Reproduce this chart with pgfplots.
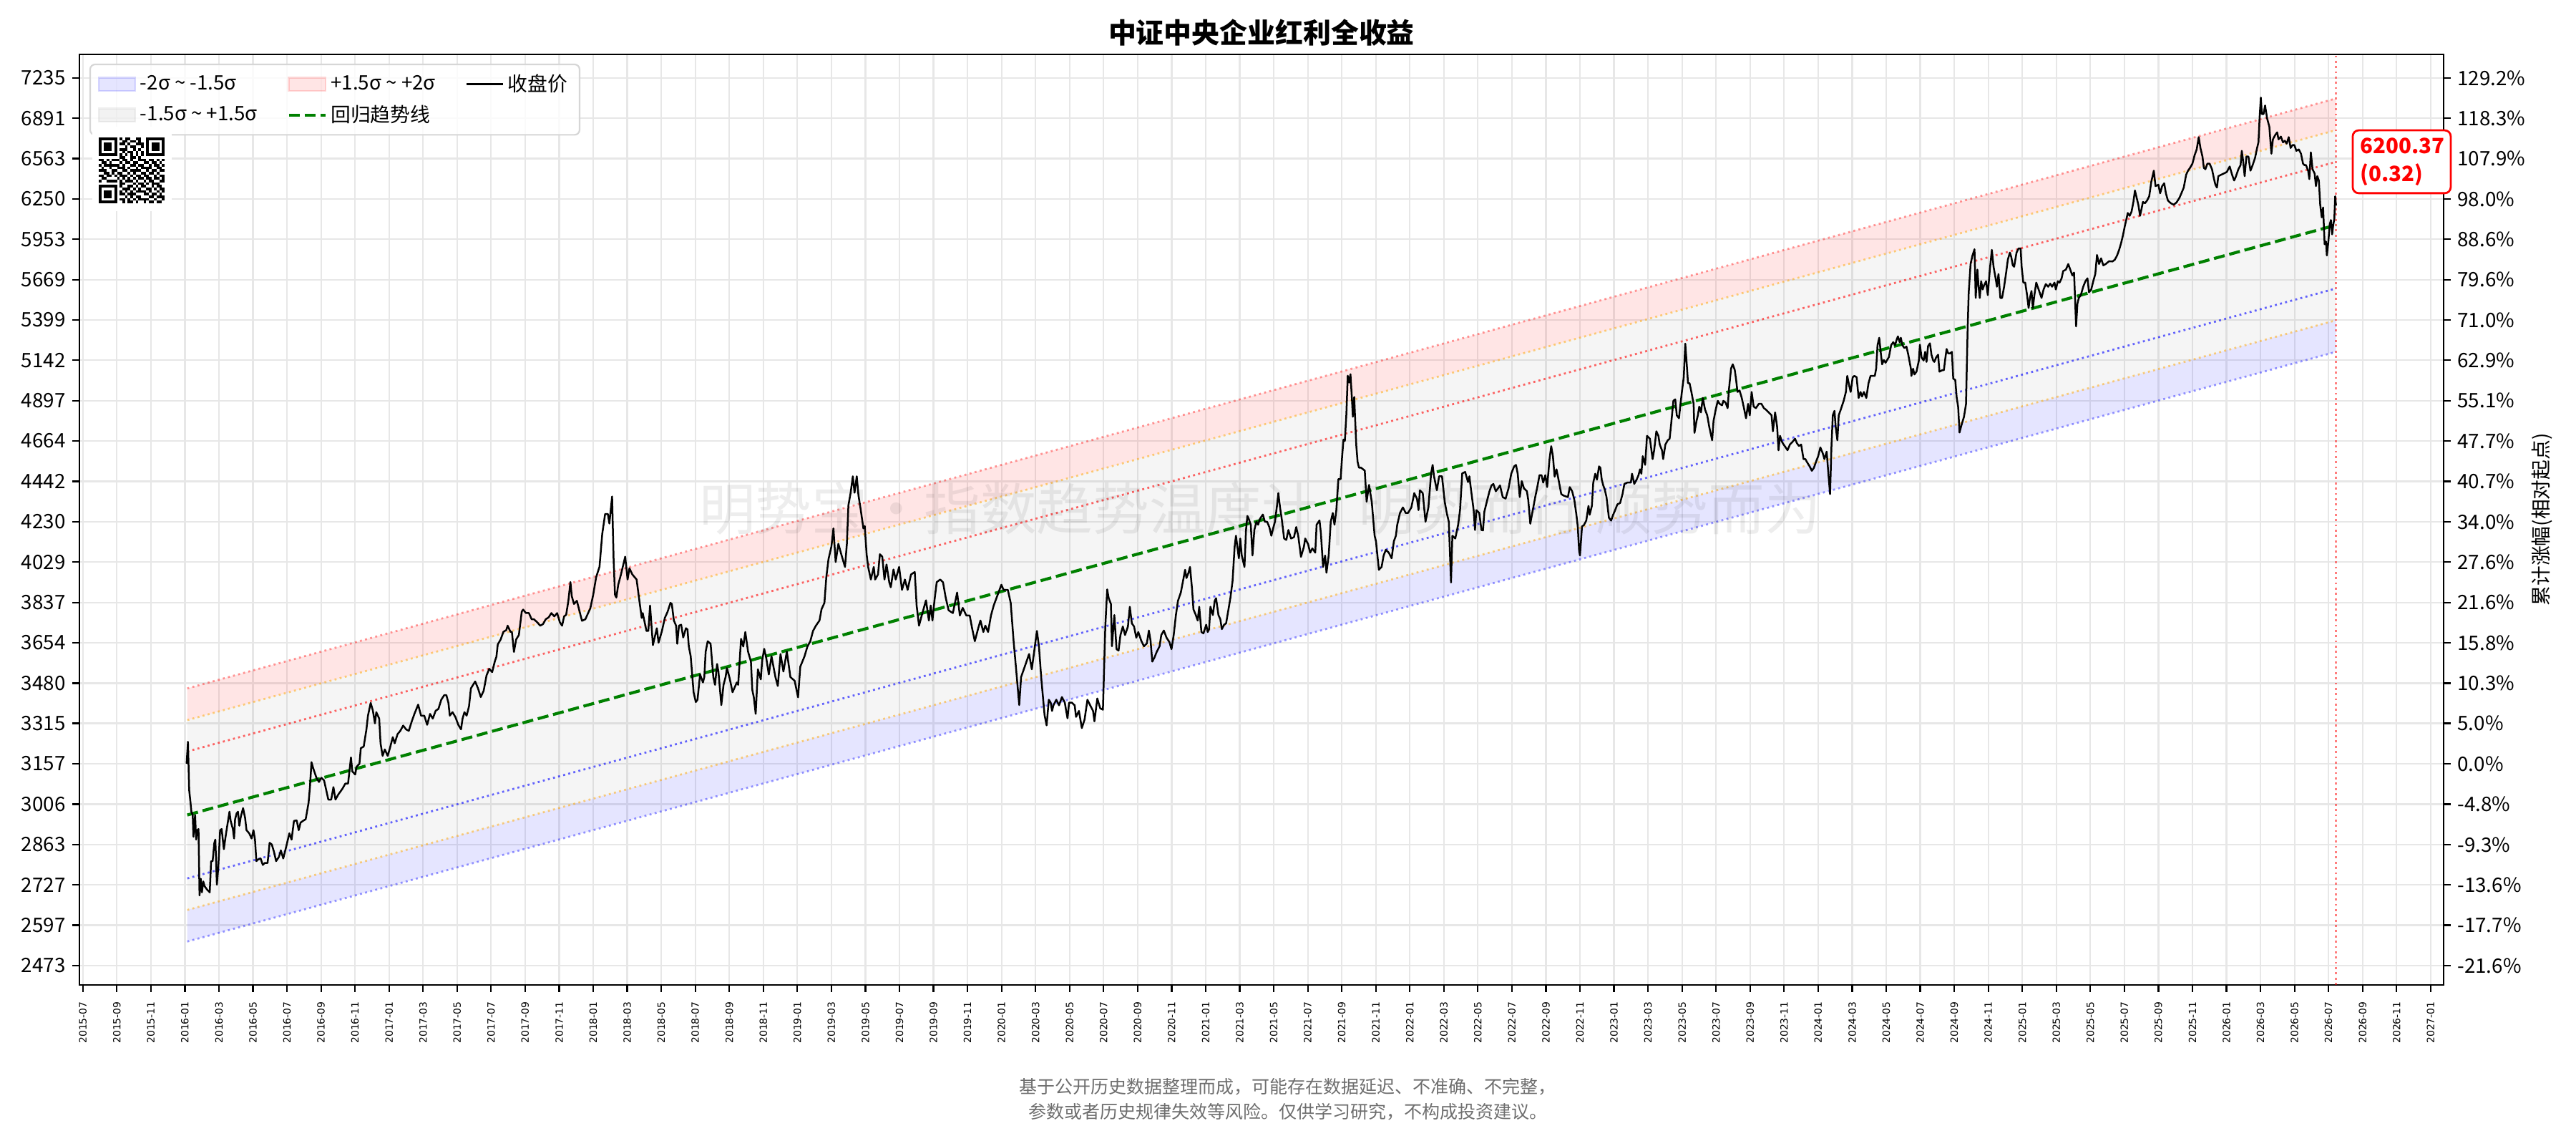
\documentclass[border=0pt]{standalone}
\usepackage{fontspec}
\usepackage{pgfplots}
\usepackage{pgfplotstable}
\pgfplotsset{compat=1.18}
\setmainfont{Noto Sans CJK SC}
\newfontfamily\dejavu{DejaVu Sans}
\definecolor{gridc}{RGB}{231,231,231}
\definecolor{legedge}{RGB}{214,214,214}
\definecolor{mplgreen}{RGB}{0,128,0}
\definecolor{mplorange}{RGB}{255,165,0}
\definecolor{footgray}{RGB}{110,110,110}
\pgfplotsset{
  patchlegend/.style={legend image code/.code={\draw[sharp corners,##1] (0pt,-3.3pt) rectangle (18.4pt,3.3pt);}},
  linelegend/.style={legend image code/.code={\draw[sharp corners,##1] (0pt,0pt) -- (18.4pt,0pt);}},
}
\newcount\qrc
\def\qrparse#1{\ifx#1\relax\else\ifnum#1=1 \edef\qrx{\the\qrc}\fill (\qrx,\qrr) rectangle ++(1,1);\fi\global\advance\qrc by 1 \expandafter\qrparse\fi}
\def\qrrow#1#2{\def\qrr{#1}\global\qrc=0 \qrparse#2\relax}
\newcommand\tl{\textasciitilde}

% month index: 0 = 2015-07-01 ; p = close
\pgfplotstableread{
m p
6.10 3157
6.18 3242
6.25 3059
6.33 3012
6.38 2979
6.46 2967
6.50 2890
6.60 2967
6.66 2880
6.73 2913
6.80 2917
6.86 2692
6.93 2747
7.00 2702
7.08 2738
7.16 2722
7.29 2712
7.46 2702
7.54 2806
7.63 2806
7.73 2869
7.79 2880
7.88 2727
7.96 2784
8.07 2913
8.16 2917
8.29 2847
8.39 2890
8.49 2929
8.62 2979
8.69 2946
8.82 2917
8.89 2884
8.95 2952
9.04 2973
9.12 2979
9.20 2929
9.29 2962
9.42 2992
9.54 2956
9.62 2913
9.78 2902
9.92 2884
10.03 2913
10.12 2880
10.20 2806
10.28 2811
10.45 2815
10.58 2793
10.70 2800
10.86 2800
10.98 2869
11.11 2863
11.24 2837
11.36 2806
11.53 2821
11.64 2843
11.78 2815
11.94 2852
12.14 2902
12.27 2880
12.41 2946
12.57 2948
12.69 2913
12.80 2940
12.94 2946
13.10 2952
13.27 3012
13.35 3069
13.44 3163
13.54 3140
13.73 3104
13.88 3088
14.02 3104
14.18 3094
14.43 3023
14.60 3023
14.73 3069
14.85 3023
15.01 3041
15.26 3063
15.43 3082
15.59 3082
15.76 3181
15.84 3128
16.01 3116
16.09 3145
16.26 3157
16.34 3217
16.51 3223
16.67 3291
16.76 3346
16.92 3398
17.05 3366
17.17 3315
17.25 3360
17.42 3334
17.50 3236
17.62 3187
17.75 3212
17.92 3187
18.05 3217
18.22 3260
18.33 3236
18.50 3272
18.66 3285
18.83 3306
19.00 3291
19.16 3285
19.33 3322
19.49 3353
19.71 3391
19.88 3346
20.07 3346
20.24 3309
20.41 3353
20.57 3334
20.74 3366
20.90 3373
21.07 3411
21.24 3430
21.37 3430
21.49 3398
21.57 3346
21.73 3360
21.90 3340
22.07 3309
22.23 3291
22.32 3334
22.43 3360
22.56 3346
22.70 3384
22.81 3458
23.06 3487
23.23 3458
23.39 3422
23.56 3448
23.73 3513
23.89 3541
24.06 3527
24.22 3574
24.31 3593
24.39 3647
24.56 3669
24.72 3703
24.89 3711
24.97 3731
25.14 3703
25.22 3703
25.34 3614
25.47 3669
25.63 3689
25.80 3795
25.88 3804
26.05 3788
26.22 3788
26.38 3760
26.51 3760
26.71 3746
26.88 3731
27.05 3738
27.21 3760
27.38 3768
27.54 3788
27.71 3773
27.88 3788
28.04 3746
28.17 3731
28.29 3773
28.41 3780
28.54 3845
28.66 3933
28.74 3866
28.87 3830
29.04 3845
29.20 3795
29.34 3753
29.54 3760
29.70 3788
29.83 3810
30.00 3873
30.17 3956
30.37 4006
30.53 4168
30.70 4270
30.86 4270
30.95 4221
31.11 4361
31.20 4037
31.28 3873
31.36 3860
31.47 3920
31.63 3969
31.88 4055
32.02 3945
32.13 3999
32.30 3969
32.55 3945
32.71 3847
32.85 3766
32.91 3788
33.13 3707
33.24 3707
33.34 3823
33.51 3644
33.63 3684
33.74 3719
33.84 3655
34.04 3707
34.21 3766
34.37 3794
34.54 3835
34.62 3830
34.74 3754
34.87 3731
34.94 3650
35.04 3731
35.17 3735
35.29 3678
35.45 3719
35.54 3714
35.62 3638
35.73 3595
35.90 3442
36.03 3401
36.13 3411
36.28 3517
36.45 3483
36.53 3506
36.61 3616
36.73 3661
36.90 3650
37.06 3506
37.16 3473
37.28 3562
37.36 3529
37.53 3389
37.66 3473
37.78 3506
37.86 3544
38.02 3501
38.19 3442
38.44 3483
38.52 3473
38.69 3672
38.82 3638
38.94 3702
39.10 3616
39.27 3572
39.35 3452
39.44 3421
39.55 3353
39.68 3539
39.85 3496
39.93 3577
40.05 3628
40.18 3584
40.32 3517
40.48 3595
40.71 3506
40.85 3468
41.01 3605
41.18 3529
41.38 3616
41.59 3506
41.84 3490
42.04 3421
42.17 3550
42.42 3595
42.59 3638
42.76 3661
42.92 3707
43.09 3731
43.30 3754
43.42 3806
43.59 3835
43.70 3956
43.83 4043
44.00 4105
44.12 4196
44.25 4029
44.41 4119
44.58 4067
44.80 4005
44.91 4119
45.00 4315
45.13 4381
45.26 4469
45.36 4381
45.49 4469
45.59 4368
45.71 4300
45.88 4196
45.96 4208
46.07 4067
46.16 4005
46.32 3945
46.49 4005
46.57 3945
46.74 3969
46.85 4067
46.99 4055
47.12 3945
47.24 4017
47.40 3932
47.49 3908
47.65 3993
47.78 3945
47.98 4005
48.15 3896
48.32 3945
48.48 3896
48.68 3969
48.90 3981
49.01 3823
49.15 3731
49.31 3777
49.56 3847
49.73 3754
49.84 3823
49.94 3754
50.06 3847
50.19 3932
50.39 3945
50.56 3932
50.72 3859
50.89 3801
51.14 3788
51.39 3883
51.55 3777
51.72 3812
51.93 3777
52.13 3777
52.27 3719
52.43 3661
52.63 3719
52.76 3754
52.93 3702
53.05 3731
53.21 3702
53.38 3777
53.54 3823
53.99 3920
54.12 3896
54.37 3896
54.54 3835
54.71 3661
54.87 3529
55.04 3389
55.15 3506
55.42 3562
55.62 3605
55.78 3539
56.08 3707
56.20 3638
56.33 3506
56.53 3348
56.65 3307
56.78 3411
56.89 3399
56.97 3365
57.05 3388
57.22 3411
57.38 3388
57.55 3422
57.72 3399
57.80 3365
57.88 3335
57.97 3399
58.13 3399
58.30 3388
58.38 3341
58.55 3365
58.72 3296
58.88 3330
59.05 3411
59.21 3388
59.38 3365
59.46 3323
59.63 3416
59.80 3376
59.96 3370
60.10 3727
60.21 3898
60.30 3857
60.43 3830
60.49 3639
60.63 3779
60.76 3626
60.88 3620
60.99 3689
61.13 3727
61.26 3689
61.43 3727
61.54 3817
61.66 3741
61.79 3727
61.92 3677
62.04 3702
62.21 3664
62.37 3639
62.54 3651
62.66 3709
62.76 3664
62.86 3572
62.99 3590
63.12 3614
63.29 3639
63.39 3689
63.54 3709
63.70 3677
63.87 3657
63.99 3626
64.12 3689
64.25 3779
64.37 3844
64.54 3884
64.70 3952
64.79 3992
64.87 3952
64.99 3978
65.08 4005
65.20 3898
65.28 3805
65.42 3779
65.53 3754
65.62 3817
65.75 3702
65.87 3696
66.03 3735
66.12 3702
66.20 3715
66.28 3817
66.42 3779
66.53 3844
66.61 3857
66.75 3779
66.86 3760
66.95 3715
67.08 3735
67.20 3741
67.31 3792
67.45 3857
67.58 3938
67.70 4103
67.78 4159
67.95 4047
68.03 4145
68.12 4061
68.28 4005
68.37 4188
68.45 4260
68.53 4245
68.65 4215
68.75 4061
68.86 4188
68.98 4230
69.08 4215
69.19 4245
69.36 4267
69.48 4230
69.61 4230
69.74 4203
69.86 4159
69.94 4188
70.07 4230
70.19 4312
70.27 4379
70.37 4304
70.47 4245
70.61 4145
70.74 4138
70.86 4188
71.02 4145
71.19 4152
71.32 4203
71.44 4159
71.60 4054
71.77 4103
71.85 4145
72.02 4117
72.14 4075
72.27 4096
72.44 4075
72.52 4215
72.69 4237
72.77 4174
72.90 4005
73.02 4061
73.10 3978
73.23 4061
73.35 4230
73.47 4275
73.57 4215
73.68 4290
73.80 4454
73.93 4454
74.02 4578
74.10 4672
74.18 4664
74.27 4819
74.35 5047
74.43 5005
74.51 5056
74.60 4901
74.65 4803
74.73 4919
74.85 4641
74.93 4547
75.01 4516
75.13 4516
75.35 4500
75.46 4334
75.60 4423
75.76 4334
75.93 4159
76.01 4131
76.18 3992
76.34 4005
76.46 4061
76.59 4089
76.76 4075
76.93 4047
77.06 4131
77.18 4159
77.26 4215
77.42 4275
77.59 4304
77.76 4275
77.89 4275
78.09 4304
78.26 4379
78.42 4349
78.51 4290
78.59 4394
78.76 4379
78.92 4230
79.09 4304
79.25 4485
79.34 4531
79.42 4469
79.59 4394
79.72 4469
79.89 4469
80.05 4334
80.17 4275
80.29 4230
80.42 3931
80.50 4159
80.67 4145
80.84 4215
80.95 4290
81.08 4485
81.25 4493
81.42 4438
81.50 4469
81.58 4409
81.75 4290
81.83 4188
81.91 4290
82.08 4275
82.21 4188
82.30 4186
82.38 4282
82.55 4343
82.68 4389
82.80 4420
82.91 4428
83.05 4389
83.18 4404
83.30 4420
83.38 4389
83.46 4358
83.63 4350
83.80 4404
83.96 4483
84.13 4523
84.24 4531
84.34 4483
84.46 4358
84.58 4443
84.71 4404
84.88 4389
84.96 4343
85.08 4220
85.21 4282
85.37 4358
85.51 4420
85.62 4475
85.74 4475
85.84 4435
85.96 4475
86.07 4411
86.21 4563
86.31 4635
86.41 4579
86.51 4467
86.62 4507
86.74 4451
86.90 4374
87.04 4366
87.29 4358
87.40 4411
87.54 4389
87.67 4343
87.79 4266
87.87 4206
87.95 4084
88.00 4061
88.12 4206
88.23 4213
88.37 4236
88.50 4312
88.57 4266
88.70 4312
88.78 4435
88.90 4483
89.00 4451
89.12 4523
89.20 4515
89.28 4451
89.37 4420
89.46 4397
89.56 4358
89.70 4251
89.83 4236
89.95 4266
90.03 4282
90.20 4320
90.36 4327
90.50 4374
90.61 4428
90.78 4435
90.99 4435
91.06 4483
91.19 4428
91.33 4451
91.44 4475
91.53 4507
91.61 4483
91.69 4579
91.83 4531
91.94 4693
92.11 4677
92.27 4563
92.36 4612
92.49 4719
92.61 4693
92.69 4644
92.82 4612
92.89 4563
93.02 4644
93.16 4668
93.27 4677
93.36 4761
93.49 4896
93.60 4905
93.69 4811
93.82 4794
93.89 4862
93.99 4949
94.10 5038
94.19 5247
94.27 5127
94.35 5002
94.44 5002
94.55 4949
94.68 4878
94.73 4710
94.85 4778
94.93 4811
95.01 4862
95.11 4828
95.22 4913
95.35 4845
95.48 4811
95.60 4744
95.77 4668
95.85 4778
95.98 4845
96.10 4896
96.21 4878
96.35 4870
96.43 4896
96.55 4887
96.68 4853
96.76 4967
96.88 5091
96.98 5117
97.10 5082
97.18 5020
97.26 4949
97.38 4958
97.51 4913
97.64 4853
97.76 4794
97.88 4878
97.98 4811
98.09 4949
98.21 4862
98.34 4853
98.51 4878
98.67 4878
98.81 4853
98.92 4845
99.09 4828
99.26 4811
99.34 4719
99.47 4828
99.59 4744
99.67 4612
99.76 4693
99.87 4660
99.97 4644
100.09 4628
100.20 4612
100.34 4644
100.50 4660
100.64 4677
100.75 4652
100.87 4636
101.00 4644
101.14 4563
101.25 4563
101.34 4547
101.50 4523
101.63 4499
101.75 4515
101.87 4547
102.00 4579
102.13 4628
102.27 4595
102.37 4563
102.50 4604
102.63 4451
102.70 4374
102.78 4628
102.86 4811
102.96 4837
103.03 4744
103.13 4668
103.21 4811
103.33 4845
103.50 4896
103.63 4949
103.71 5046
103.83 4984
103.91 4949
104.03 5038
104.13 5046
104.26 5038
104.38 4913
104.49 4949
104.58 4922
104.69 4949
104.83 4913
104.96 5002
105.08 5046
105.33 5046
105.41 5091
105.49 5237
105.59 5284
105.69 5181
105.76 5117
105.86 5144
105.96 5127
106.16 5163
106.29 5237
106.41 5256
106.52 5237
106.62 5274
106.69 5293
106.79 5256
106.86 5284
106.95 5237
107.07 5219
107.19 5228
107.29 5181
107.45 5091
107.48 5046
107.58 5090
107.66 5055
107.78 5072
107.92 5141
107.98 5240
108.08 5159
108.20 5141
108.29 5195
108.37 5132
108.46 5231
108.57 5249
108.66 5177
108.76 5141
108.83 5132
108.93 5159
109.05 5177
109.13 5072
109.30 5081
109.39 5081
109.47 5150
109.55 5213
109.64 5186
109.77 5186
109.86 5195
109.94 5029
110.06 5021
110.14 4918
110.23 4859
110.31 4712
110.42 4753
110.57 4802
110.69 4876
110.79 5357
110.85 5583
110.96 5777
111.07 5837
111.19 5881
111.26 5545
111.36 5738
111.43 5621
111.50 5545
111.58 5658
111.67 5602
111.75 5630
111.87 5658
111.97 5564
112.09 5738
112.21 5877
112.31 5758
112.43 5678
112.51 5621
112.60 5708
112.71 5545
112.81 5545
112.93 5621
113.05 5718
113.15 5808
113.27 5858
113.35 5827
113.44 5768
113.52 5758
113.66 5858
113.78 5887
113.90 5887
113.96 5758
114.06 5649
114.17 5649
114.28 5564
114.37 5478
114.45 5545
114.54 5592
114.62 5478
114.71 5564
114.82 5649
114.96 5602
115.13 5545
115.25 5602
115.38 5639
115.52 5621
115.64 5642
115.75 5621
115.89 5649
115.97 5602
116.09 5658
116.19 5649
116.31 5678
116.40 5728
116.56 5738
116.70 5777
116.82 5738
116.94 5698
117.04 5718
117.10 5545
117.16 5357
117.24 5507
117.32 5545
117.44 5564
117.58 5621
117.71 5658
117.83 5678
117.92 5583
118.05 5602
118.17 5658
118.29 5708
118.39 5841
118.51 5777
118.63 5817
118.76 5768
118.90 5777
119.10 5797
119.30 5795
119.44 5808
119.57 5837
119.69 5877
119.81 5927
119.91 5978
120.03 6051
120.20 6145
120.31 6124
120.42 6155
120.53 6228
120.62 6315
120.70 6271
120.82 6207
120.92 6124
120.99 6165
121.09 6228
121.21 6218
121.33 6238
121.46 6271
121.58 6381
121.73 6468
121.83 6348
122.00 6359
122.10 6293
122.22 6348
122.34 6370
122.44 6293
122.56 6238
122.73 6218
122.90 6207
123.07 6225
123.24 6260
123.35 6293
123.49 6337
123.63 6436
123.74 6468
123.86 6490
124.00 6523
124.13 6591
124.25 6636
124.37 6736
124.47 6648
124.59 6579
124.67 6490
124.76 6479
124.88 6523
125.01 6523
125.15 6479
125.27 6402
125.35 6359
125.44 6337
125.52 6425
125.69 6436
125.86 6447
126.02 6458
126.19 6501
126.33 6436
126.45 6391
126.53 6414
126.70 6479
126.83 6512
126.90 6625
126.97 6556
127.07 6425
127.17 6579
127.29 6579
127.41 6468
127.54 6512
127.68 6568
127.80 6648
127.88 6694
127.95 6902
128.02 7066
128.08 6926
128.18 6926
128.27 6998
128.39 6890
128.52 6821
128.64 6602
128.73 6717
128.86 6752
128.98 6775
129.06 6717
129.20 6740
129.32 6694
129.43 6706
129.54 6683
129.66 6736
129.77 6648
129.88 6671
129.99 6671
130.11 6625
130.25 6636
130.38 6602
130.50 6523
130.58 6512
130.67 6512
130.80 6468
130.87 6402
130.96 6613
131.06 6479
131.18 6447
131.26 6348
131.34 6425
131.43 6391
131.51 6207
131.60 6113
131.68 6186
131.77 5917
131.85 5937
131.90 5837
131.99 5937
132.07 6061
132.14 6093
132.21 5988
132.27 6051
132.34 6103
132.39 6271
132.44 6200.37
}\closedata

\begin{document}
\begin{tikzpicture}
\useasboundingbox (-39.96pt,-80.64pt) rectangle (1256.04pt,495.36pt);
\begin{axis}[
  name=main, at={(0pt,0pt)}, anchor=south west,
  scale only axis, width=1189.4pt, height=468pt,
  xmin=-0.2, xmax=138.76,
  ymode=log, ymin=2416, ymax=7445,
  xtick={0,2,...,138},
  xticklabels={2015-07,2015-09,2015-11,
    2016-01,2016-03,2016-05,2016-07,2016-09,2016-11,
    2017-01,2017-03,2017-05,2017-07,2017-09,2017-11,
    2018-01,2018-03,2018-05,2018-07,2018-09,2018-11,
    2019-01,2019-03,2019-05,2019-07,2019-09,2019-11,
    2020-01,2020-03,2020-05,2020-07,2020-09,2020-11,
    2021-01,2021-03,2021-05,2021-07,2021-09,2021-11,
    2022-01,2022-03,2022-05,2022-07,2022-09,2022-11,
    2023-01,2023-03,2023-05,2023-07,2023-09,2023-11,
    2024-01,2024-03,2024-05,2024-07,2024-09,2024-11,
    2025-01,2025-03,2025-05,2025-07,2025-09,2025-11,
    2026-01,2026-03,2026-05,2026-07,2026-09,2026-11,
    2027-01},
  ytick={2473,2597,2727,2863,3006,3157,3315,3480,3654,3837,4029,4230,4442,4664,4897,5142,5399,5669,5953,6250,6563,6891,7235},
  yticklabels={2473,2597,2727,2863,3006,3157,3315,3480,3654,3837,4029,4230,4442,4664,4897,5142,5399,5669,5953,6250,6563,6891,7235},
  tick pos=left, tick align=outside,
  major tick length=3.5pt,
  tick style={black, line width=0.8pt},
  axis line style={line width=0.8pt},
  grid=major, grid style={gridc, line width=0.8pt},
  xticklabel style={rotate=90, anchor=east, font=\dejavu\fontsize{5}{6}\selectfont},
  xticklabel shift=1.5pt,
  yticklabel style={font=\fontsize{10}{12}\selectfont},
  legend columns=3,
  legend cell align=left,
  legend style={at={(axis description cs:0.0042,0.99)}, anchor=north west,
    draw=legedge, line width=0.8pt, rounded corners=2.5pt,
    fill=white, fill opacity=0.8, text opacity=1,
    font=\fontsize{10}{12}\selectfont,
    /tikz/every even column/.append style={column sep=13pt},
    row sep=1.5pt, inner xsep=4pt, inner ysep=3pt},
]
% legend entries (row-major order)
\addlegendimage{patchlegend, fill=blue, fill opacity=0.1, draw=blue, draw opacity=0.15}
\addlegendentry{-2σ \tl{} -1.5σ}
\addlegendimage{patchlegend, fill=red, fill opacity=0.1, draw=red, draw opacity=0.15}
\addlegendentry{+1.5σ \tl{} +2σ}
\addlegendimage{linelegend, black, line width=1pt}
\addlegendentry{收盘价}
\addlegendimage{patchlegend, fill=gray, fill opacity=0.1, draw=gray, draw opacity=0.12}
\addlegendentry{-1.5σ \tl{} +1.5σ}
\addlegendimage{linelegend, mplgreen, line width=1.5pt, dash pattern=on 5.55pt off 2.4pt}
\addlegendentry{回归趋势线}

% bands
\addplot[forget plot, draw=none, fill=blue, fill opacity=0.1] coordinates {(6.14,2546) (132.44,5195) (132.44,5397) (6.14,2645)} --cycle;
\addplot[forget plot, draw=none, fill=gray, fill opacity=0.08] coordinates {(6.14,2645) (132.44,5397) (132.44,6793) (6.14,3328)} --cycle;
\addplot[forget plot, draw=none, fill=red, fill opacity=0.1] coordinates {(6.14,3328) (132.44,6793) (132.44,7058) (6.14,3458)} --cycle;
% band lines
\addplot[forget plot, red, opacity=0.4, line width=1pt, dash pattern=on 1pt off 1.65pt] coordinates {(6.14,3458) (132.44,7058)};
\addplot[forget plot, mplorange, opacity=0.5, line width=1pt, dash pattern=on 1pt off 1.65pt] coordinates {(6.14,3328) (132.44,6793)};
\addplot[forget plot, red, opacity=0.6, line width=1pt, dash pattern=on 1pt off 1.65pt] coordinates {(6.14,3204) (132.44,6537)};
\addplot[forget plot, blue, opacity=0.6, line width=1pt, dash pattern=on 1pt off 1.65pt] coordinates {(6.14,2748) (132.44,5609)};
\addplot[forget plot, mplorange, opacity=0.5, line width=1pt, dash pattern=on 1pt off 1.65pt] coordinates {(6.14,2645) (132.44,5397)};
\addplot[forget plot, blue, opacity=0.4, line width=1pt, dash pattern=on 1pt off 1.65pt] coordinates {(6.14,2546) (132.44,5195)};
% vertical marker at last date
\addplot[forget plot, red, opacity=0.5, line width=1pt, dash pattern=on 1pt off 1.65pt] coordinates {(132.44,2416) (132.44,7445)};
% regression line
\addplot[forget plot, mplgreen, line width=1.5pt, dash pattern=on 5.55pt off 2.4pt] coordinates {(6.14,2967) (132.44,6056)};
% close
\addplot[forget plot, black, line width=0.9pt, line join=round] table[x=m, y=p] {\closedata};
\end{axis}

\begin{axis}[
  at={(0pt,0pt)}, anchor=south west,
  scale only axis, width=1189.4pt, height=468pt,
  xmin=-0.2, xmax=138.76,
  ymode=log, ymin=2416, ymax=7445,
  axis x line=none, axis y line*=right,
  ytick={2473,2597,2727,2863,3006,3157,3315,3480,3654,3837,4029,4230,4442,4664,4897,5142,5399,5669,5953,6250,6563,6891,7235},
  yticklabels={-21.6\%,-17.7\%,-13.6\%,-9.3\%,-4.8\%,0.0\%,5.0\%,10.3\%,15.8\%,21.6\%,27.6\%,34.0\%,40.7\%,47.7\%,55.1\%,62.9\%,71.0\%,79.6\%,88.6\%,98.0\%,107.9\%,118.3\%,129.2\%},
  tick align=outside, major tick length=3.5pt,
  tick style={black, line width=0.8pt},
  axis line style={line width=0.8pt},
  yticklabel style={font=\fontsize{10}{12}\selectfont},
]
\addplot[draw=none, forget plot] coordinates {(10,3000)};
\end{axis}

% watermark
\node[text=black, opacity=0.07, font=\fontsize{28.3}{30}\selectfont] at (594pt,236.9pt) {明势宝·指数趋势温度计 | 明势而行 顺势而为};

% right y label
\node[rotate=90, font=\fontsize{10}{12}\selectfont] at (1239.1pt,234pt) {累计涨幅(相对起点)};

% title
\node[font=\bfseries\fontsize{14}{16.8}\selectfont] at (594.7pt,478.8pt) {中证中央企业红利全收益};

% annotation
\node[draw=red, line width=1pt, rounded corners=3pt, fill=white, minimum width=49.3pt, minimum height=31.6pt, inner sep=0pt] at (1168.35pt,414pt) {};
\node[anchor=west, align=left, text=red, font=\bfseries\fontsize{10.6}{13.8}\selectfont, inner sep=0pt] at (1147.4pt,414pt) {6200.37\\(0.32)};

% footer
\node[text=footgray, font=\fontsize{9}{11}\selectfont] at (608pt,-51.1pt) {基于公开历史数据整理而成，可能存在数据延迟、不准确、不完整，};
\node[text=footgray, font=\fontsize{9}{11}\selectfont] at (608pt,-63.7pt) {参数或者历史规律失效等风险。仅供学习研究，不构成投资建议。};

% QR code
\fill[white] (6.5pt,389.2pt) rectangle (46.4pt,431.6pt);
\begin{scope}[shift={(9.72pt,426.2pt)}, x=1.325pt, y=-1.325pt]
\qrrow{0}{1111111010110011001111111}
\qrrow{1}{1000001001101101001000001}
\qrrow{2}{1011101011010011101011101}
\qrrow{3}{1011101000101100101011101}
\qrrow{4}{1011101011100101001011101}
\qrrow{5}{1000001001011010101000001}
\qrrow{6}{1111111010101010101111111}
\qrrow{7}{0000000011001101000000000}
\qrrow{8}{1101011101101001110110101}
\qrrow{9}{0110100010110110011011010}
\qrrow{10}{1011111101001101100101101}
\qrrow{11}{0100100111010010111100110}
\qrrow{12}{1110011001101111001011011}
\qrrow{13}{0011010110010100110110100}
\qrrow{14}{1101101011101011011001011}
\qrrow{15}{0110000101010101101101101}
\qrrow{16}{1001111010111010010110011}
\qrrow{17}{0000000011000101101011100}
\qrrow{18}{1111111010011010110010110}
\qrrow{19}{1000001001110101001101011}
\qrrow{20}{1011101010101011110100101}
\qrrow{21}{1011101011011100011011010}
\qrrow{22}{1011101000101011000110111}
\qrrow{23}{1000001011010101111001001}
\qrrow{24}{1111111001011010010110110}
\end{scope}
\end{tikzpicture}
\end{document}
